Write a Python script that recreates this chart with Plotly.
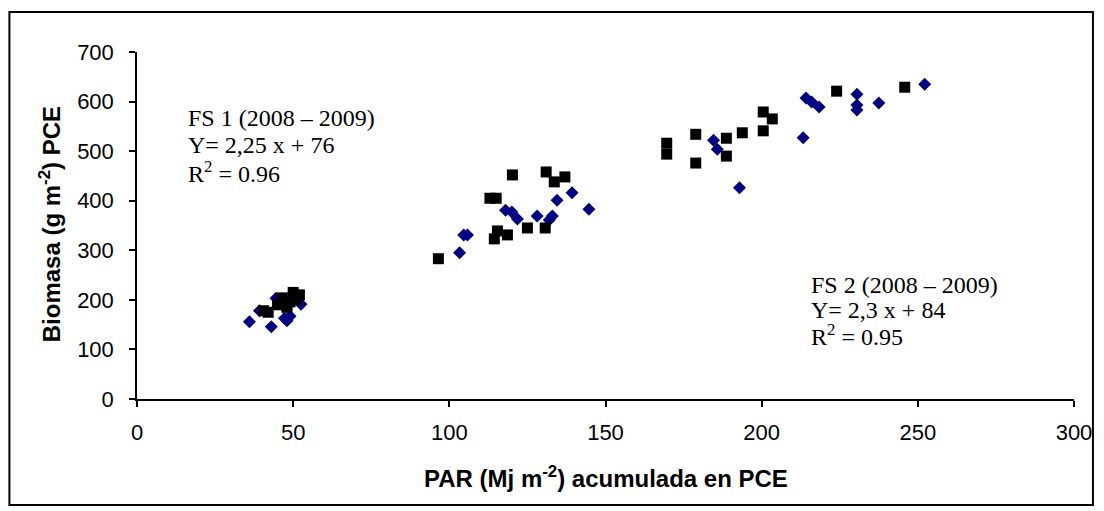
import plotly.graph_objects as go

# FS 1 (black squares)
fs1_par = [40.5, 42, 45, 46.5, 48, 49, 50, 51, 52, 50, 48,
           96.5, 113, 115, 114.4, 115.4, 118.6, 120.2, 125, 130.7, 131, 133.6, 137,
           169.6, 169.6, 178.9, 178.9, 188.7, 188.7, 193.8, 200.5, 200.5, 203.4, 224, 245.8]
fs1_bio = [178, 175, 190, 204, 190, 196, 215, 200, 210, 205, 185,
           283, 405, 405, 323, 339, 331, 452, 345, 345, 458, 438, 448,
           516, 494, 534, 476, 526, 490, 537, 579, 541, 565, 621, 629]

# FS 2 (blue diamonds)
fs2_par = [36, 43, 39.2, 44.5, 47.2, 48, 49, 52.5, 46,
           103.3, 104.6, 105.8, 118, 120, 121.8, 128.1, 132, 133, 134.5, 139.3, 144.7,
           184.6, 185.8, 192.9, 213.3, 214.2, 216, 218.4, 230.5, 230.5, 230.5, 237.5, 252.2]
fs2_bio = [156, 146, 178, 203, 163, 158, 167, 191, 195,
           295, 331, 331, 381, 377, 363, 369, 361, 369, 401, 416, 383,
           522, 504, 426, 527, 607, 599, 589, 615, 593, 583, 597, 635]

x_ticks = [0, 50, 100, 150, 200, 250, 300]
y_ticks = [0, 100, 200, 300, 400, 500, 600, 700]

W, H = 1104, 511
L, R, T, B = 137, 27, 52, 112
pw, ph = W - L - R, H - T - B

def px2paper(px, py):
    return (px - L) / pw, (H - B - py) / ph

fig = go.Figure()
fig.add_trace(go.Scatter(x=fs2_par, y=fs2_bio, mode="markers",
                         marker=dict(symbol="diamond", size=10, color="#000080"),
                         showlegend=False))
fig.add_trace(go.Scatter(x=fs1_par, y=fs1_bio, mode="markers",
                         marker=dict(symbol="square", size=11, color="#000000"),
                         showlegend=False))

tickfont = dict(family="Liberation Sans, Arial", size=22, color="black")
fig.update_xaxes(range=[0, 300], tickvals=x_ticks, ticks="outside", ticklen=6,
                 tickwidth=1.5, tickcolor="black", showline=True, linecolor="black",
                 linewidth=1.5, showgrid=False, zeroline=False, tickfont=tickfont,
                 ticklabelstandoff=7)
fig.update_yaxes(range=[0, 700], tickvals=y_ticks, ticks="outside", ticklen=6,
                 tickwidth=1.5, tickcolor="black", showline=True, linecolor="black",
                 linewidth=1.5, showgrid=False, zeroline=False, tickfont=tickfont,
                 ticklabelstandoff=11)

annots = []
serif = dict(family="Liberation Serif, Times New Roman", size=24, color="black")
fs1_lines = ["FS 1 (2008 – 2009)", "Y= 2,25 x + 76", "R<sup>2</sup> = 0.96"]
fs2_lines = ["FS 2 (2008 – 2009)", "Y= 2,3 x + 84", "R<sup>2</sup> = 0.95"]
for i, t in enumerate(fs1_lines):
    x, y = px2paper(186, [118, 145, 172][i])
    annots.append(dict(text=t, x=x, y=y, xref="paper", yref="paper", xanchor="left",
                       yanchor="middle", showarrow=False, font=serif))
for i, t in enumerate(fs2_lines):
    x, y = px2paper(811, [285, 310, 335][i])
    annots.append(dict(text=t, x=x, y=y, xref="paper", yref="paper", xanchor="left",
                       yanchor="middle", showarrow=False, font=serif))

titlefont = dict(family="Liberation Sans, Arial", size=24, color="black", weight="bold")
x, y = px2paper(607, 477)
annots.append(dict(text="PAR (Mj m<sup>-2</sup>) acumulada en PCE", x=x, y=y, xref="paper",
                   yref="paper", xanchor="center", yanchor="middle", showarrow=False,
                   font=titlefont))
x, y = px2paper(50, 224)
annots.append(dict(text="Biomasa (g m<sup>-2</sup>) PCE", x=x, y=y, xref="paper",
                   yref="paper", xanchor="center", yanchor="middle", showarrow=False,
                   textangle=-90, font=titlefont))

x0, y0 = px2paper(9, 505)
x1, y1 = px2paper(1096, 12)
fig.update_layout(
    width=W, height=H, margin=dict(l=L, r=R, t=T, b=B),
    plot_bgcolor="white", paper_bgcolor="white",
    annotations=annots,
    shapes=[dict(type="rect", xref="paper", yref="paper", x0=x0, x1=x1, y0=y0, y1=y1,
                 line=dict(color="black", width=2), fillcolor="rgba(0,0,0,0)")],
)
fig.write_html("out.html")
